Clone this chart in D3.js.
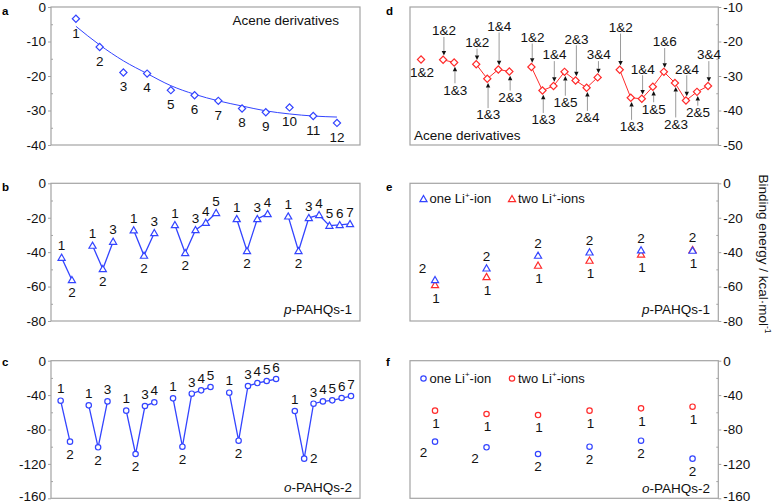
<!DOCTYPE html>
<html><head><meta charset="utf-8">
<script src="https://cdn.jsdelivr.net/npm/d3@7"></script>
<style>body{margin:0;background:#fff}</style>
</head><body>
<svg id="chart" width="774" height="504"></svg>
<script>
// ---------------- DATA ----------------
// a: acene derivatives, one Li+ ion
const aLabels = ["1","2","3","4","5","6","7","8","9","10","11","12"];
const aValues = [-3.4,-11.6,-19.0,-19.3,-24.1,-25.6,-27.2,-29.4,-30.5,-29.1,-31.6,-33.6];
const aFit    = [-5.6,-11.0,-15.6,-19.3,-22.8,-25.3,-27.2,-28.7,-30.1,-31.0,-31.6,-31.9];

// b: p-PAHQs-1 (groups of sites)
const bSeries = [
  [-43.2,-56.2],
  [-36.2,-49.8,-33.9],
  [-27.3,-42.0,-28.9],
  [-24.2,-40.5,-27.1,-22.9,-17.2],
  [-20.7,-39.3,-20.7,-17.8],
  [-19.2,-39.3,-20.1,-18.4,-24.6,-24.2,-23.6]
];
// c: o-PAHQs-2
const cSeries = [
  [-46.5,-94.1],
  [-51.9,-100.7,-47.3],
  [-58.1,-108.5,-52.7,-48.4],
  [-43.8,-100.0,-38.4,-34.5,-30.6],
  [-37.2,-93.0,-29.4,-26.0,-23.6,-21.3],
  [-58.5,-113.9,-50.0,-47.3,-46.1,-43.4,-41.1]
];
const cSite2Side = ["below","below","below","below","below","right"];

// d: acene derivatives, two Li+ ions
const dLabels = [
  ["1&2"],
  ["1&2","1&3"],
  ["1&2","1&3","1&4","2&3"],
  ["1&2","1&3","1&4","1&5","2&3","2&4","3&4"],
  ["1&2","1&3","1&4","1&5","1&6","2&3","2&4","2&5","3&4"]
];
const dValues = [
  [-25.2],
  [-25.3,-26.1],
  [-26.6,-30.8,-28.1,-28.7],
  [-27.4,-34.2,-32.9,-28.8,-31.3,-33.4,-30.4],
  [-28.2,-36.3,-36.6,-33.1,-28.8,-32.0,-37.1,-34.6,-32.9]
];
// annotation level of each label (energy units)
const dLabelLevels = [
  [-28.8],
  [-16.8,-34.0],
  [-20.2,-41.2,-15.5,-36.1],
  [-18.7,-42.6,-23.8,-37.6,-19.2,-42.0,-23.8],
  [-15.8,-44.6,-27.9,-39.5,-20.0,-43.9,-27.9,-40.5,-23.8]
];

// e: p-PAHQs-1, one vs two Li+ ions
const eOne = [-56.2,-49.4,-42.0,-40.1,-38.9,-39.1];
const eTwo = [-59.1,-54.4,-47.8,-44.9,-41.3,-38.7];
const eSite2Side = ["aboveleft","above","above","above","above","above"];
// f: o-PAHQs-2, one vs two Li+ ions
const fOne = [-94.1,-100.7,-108.5,-100.0,-93.0,-113.9];
const fTwo = [-58.1,-62.0,-63.2,-58.1,-55.4,-53.5];
const fSite2Side = ["belowleft","belowleft","below","below","below","below"];

// ---------------- DRAWING ----------------
const FONT = '"Liberation Sans", Arial, Helvetica, sans-serif';
const BLUE = "#3344ff", RED = "#ff2b2b", GRAY = "#a3a3a3";
const svg = d3.select("#chart").style("font-family", FONT);

function makePanel(o) {
  const x = d3.scaleLinear().domain(o.xDomain).range([o.x0, o.x1]);
  const y = d3.scaleLinear().domain(o.yDomain).range([o.y1, o.y0]);
  const g = svg.append("g");
  const majors = d3.range(o.yDomain[0], o.yDomain[1] + 1e-9, o.major);
  const minors = d3.range(o.yDomain[0] + o.major / 2, o.yDomain[1], o.major);
  const isLeft = o.side === "left";
  const ax = (isLeft ? d3.axisLeft(y) : d3.axisRight(y));
  const axG = g.append("g").attr("transform", `translate(${isLeft ? o.x0 : o.x1},0)`)
    .call(ax.tickValues(majors).tickSize(3).tickPadding(2).tickFormat(d => String(d)));
  axG.select(".domain").remove();
  axG.selectAll("line").attr("stroke", GRAY);
  axG.selectAll("text").attr("font-size", 13.5).attr("font-family", FONT).attr("fill", "#111");
  // keep the lowest tick label inside the picture
  axG.selectAll(".tick").filter(d => y(d) > 490).select("text").attr("y", -2.5);
  const mnG = g.append("g").attr("transform", `translate(${isLeft ? o.x0 : o.x1},0)`)
    .call((isLeft ? d3.axisLeft(y) : d3.axisRight(y)).tickValues(minors).tickSize(-2).tickFormat(""));
  mnG.select(".domain").remove();
  mnG.selectAll("line").attr("stroke", GRAY);
  g.append("rect").attr("x", o.x0).attr("y", o.y0).attr("width", o.x1 - o.x0).attr("height", o.y1 - o.y0)
    .attr("fill", "none").attr("stroke", GRAY).attr("stroke-width", 1.2);
  svg.append("text").attr("x", o.letterX).attr("y", o.letterY).attr("font-size", 11.5)
    .attr("font-weight", "bold").text(o.letter);
  return { x, y, g };
}

const OFF = { above: [0, -12], below: [0, 12.5], right: [9.5, 0], aboveleft: [-12.5, -11], belowleft: [-11.5, 11] };
function numLabel(g, px, py, txt, side) {
  const [dx, dy] = OFF[side];
  g.append("text").attr("x", px + dx).attr("y", py + dy + 4.8).attr("text-anchor", "middle")
    .attr("font-size", 13.5).attr("fill", "#111").text(txt);
}
const diamond = d3.symbol().type(d3.symbolSquare).size(26)();
const triangle = d3.symbol().type(d3.symbolTriangle).size(22)();
function marker(g, type, px, py, color) {
  if (type === "circle") {
    g.append("circle").attr("cx", px).attr("cy", py).attr("r", 2.7)
      .attr("fill", "#fff").attr("stroke", color).attr("stroke-width", 1.2);
  } else if (type === "diamond") {
    g.append("path").attr("d", diamond).attr("transform", `translate(${px},${py}) rotate(45)`)
      .attr("fill", "#fff").attr("stroke", color).attr("stroke-width", 1.2);
  } else {
    g.append("path").attr("d", triangle).attr("transform", `translate(${px},${py + 0.6})`)
      .attr("fill", "#fff").attr("stroke", color).attr("stroke-width", 1.2);
  }
}
function italicTitle(g, xr, yb, ital, rest) {
  const t = g.append("text").attr("x", xr).attr("y", yb).attr("text-anchor", "end").attr("font-size", 13.5).attr("fill", "#111");
  t.append("tspan").attr("font-style", "italic").text(ital);
  t.append("tspan").text(rest);
}
function legend(g, px, py, type, color, txtBefore, txtAfter) {
  marker(g, type, px, py, color);
  const t = g.append("text").attr("x", px + 6).attr("y", py + 4.3).attr("font-size", 13).attr("fill", "#111");
  t.append("tspan").text(txtBefore);
  t.append("tspan").attr("font-size", 8).attr("dy", -5.5).text("+");
  t.append("tspan").attr("dy", 5.5).text(txtAfter);
}

const LX = [51, 360], RX = [410, 718.3];
const ROWS = [[7, 145], [183.3, 321], [360.7, 498.3]];

// ---- panel a ----
{
  const p = makePanel({ x0: LX[0], x1: LX[1], y0: ROWS[0][0], y1: ROWS[0][1], xDomain: [-0.05, 12.97],
    yDomain: [-40, 0], major: 10, side: "left", letter: "a", letterX: 2, letterY: 15 });
  const line = d3.line().x((d, i) => p.x(i + 1)).y(d => p.y(d)).curve(d3.curveMonotoneX);
  p.g.append("path").attr("d", line(aFit)).attr("fill", "none").attr("stroke", BLUE).attr("stroke-width", 1);
  aValues.forEach((v, i) => {
    marker(p.g, "diamond", p.x(i + 1), p.y(v), BLUE);
    numLabel(p.g, p.x(i + 1), p.y(v) + 1.5, aLabels[i], "below");
  });
  p.g.append("text").attr("x", 339).attr("y", 25).attr("text-anchor", "end").attr("font-size", 13.5)
    .attr("fill", "#111").text("Acene derivatives");
}

// ---- panels b, c (grouped series) ----
function groupedPanel(series, rowIdx, yDom, major, type, letter, letterY, sides, ital, rest, xDomain) {
  const p = makePanel({ x0: LX[0], x1: LX[1], y0: ROWS[rowIdx][0], y1: ROWS[rowIdx][1], xDomain,
    yDomain: yDom, major, side: "left", letter, letterX: 2, letterY });
  let idx = 0;
  series.forEach((grp, gi) => {
    const pts = grp.map((v, i) => [idx + i, v]);
    p.g.append("path").attr("d", d3.line().x(d => p.x(d[0])).y(d => p.y(d[1]))(pts))
      .attr("fill", "none").attr("stroke", BLUE).attr("stroke-width", 1.3);
    pts.forEach(([k, v], i) => {
      marker(p.g, type, p.x(k), p.y(v), BLUE);
      const side = i === 1 ? sides[gi] : "above";
      numLabel(p.g, p.x(k), p.y(v), String(i + 1), side);
    });
    idx += grp.length + 1;
  });
  italicTitle(p.g, 352, rowIdx === 1 ? 313.5 : 492, ital, rest);
}
groupedPanel(bSeries, 1, [-80, 0], 20, "triangle", "b", 190.7,
  bSeries.map(() => "below"), "p", "-PAHQs-1", [-1.03, 28.97]);
groupedPanel(cSeries, 2, [-160, 0], 40, "circle", "c", 366, cSite2Side, "o", "-PAHQs-2", [-1.03, 31.96]);

// ---- panel d ----
{
  const p = makePanel({ x0: RX[0], x1: RX[1], y0: ROWS[0][0], y1: ROWS[0][1], xDomain: [-1, 26.93],
    yDomain: [-50, -10], major: 10, side: "right", letter: "d", letterX: 386, letterY: 15 });
  let idx = 0;
  dValues.forEach((grp, gi) => {
    const pts = grp.map((v, i) => [idx + i, v]);
    if (pts.length > 1) {
      p.g.append("path").attr("d", d3.line().x(d => p.x(d[0])).y(d => p.y(d[1]))(pts))
        .attr("fill", "none").attr("stroke", RED).attr("stroke-width", 1);
    }
    pts.forEach(([k, v], i) => {
      const px = p.x(k), py = p.y(v), ly = p.y(dLabelLevels[gi][i]);
      const txt = dLabels[gi][i];
      if (pts.length > 1) {
        const above = ly < py;
        const yStart = above ? ly + 6.5 : ly - 6.5;
        const yTip = above ? py - 4.2 : py + 4.2;
        const yBase = above ? yTip - 4.5 : yTip + 4.5;
        p.g.append("line").attr("x1", px + 0.8).attr("x2", px + 0.8).attr("y1", yStart).attr("y2", yBase)
          .attr("stroke", "#9a9a9a").attr("stroke-width", 1);
        p.g.append("path").attr("d", `M${px + 0.8},${yTip}L${px - 1.4},${yBase}L${px + 3},${yBase}Z`).attr("fill", "#111");
      }
      p.g.append("text").attr("x", px + 1).attr("y", ly + 4.8).attr("text-anchor", "middle")
        .attr("font-size", 13.5).attr("fill", "#111").text(txt);
    });
    idx += grp.length + 1;
  });
  // markers on top
  idx = 0;
  dValues.forEach(grp => { grp.forEach((v, i) => marker(p.g, "diamond", p.x(idx + i), p.y(v), RED)); idx += grp.length + 1; });
  p.g.append("text").attr("x", 414).attr("y", 139.5).attr("font-size", 13.5).attr("fill", "#111").text("Acene derivatives");
}

// ---- panels e, f ----
function comparePanel(one, two, rowIdx, yDom, major, type, letter, letterY, sides2, ital, rest, legendY, titleY) {
  const p = makePanel({ x0: RX[0], x1: RX[1], y0: ROWS[rowIdx][0], y1: ROWS[rowIdx][1], xDomain: [-0.486, 5.5],
    yDomain: yDom, major, side: "right", letter, letterX: 386, letterY });
  one.forEach((v1, i) => {
    const v2 = two[i];
    const px = p.x(i);
    const y1 = p.y(v1), y2 = p.y(v2);
    if (rowIdx === 1) {
      numLabel(p.g, px, Math.min(y1, y2) - 0.5, "2", sides2[i]);
      numLabel(p.g, px + 1, Math.max(y1, y2) + 0.5, "1", "below");
    } else {
      numLabel(p.g, px + 1, y2, "1", "below");
      numLabel(p.g, px, y1, "2", sides2[i]);
    }
    marker(p.g, type, px, y2, RED);
    marker(p.g, type, px, y1, BLUE);
  });
  legend(p.g, 423.5, legendY, type, BLUE, "one Li", "-ion");
  legend(p.g, 512, legendY, type, RED, "two Li", "-ions");
  italicTitle(p.g, 710, titleY, ital, rest);
}
comparePanel(eOne, eTwo, 1, [-80, 0], 20, "triangle", "e", 190.7, eSite2Side, "p", "-PAHQs-1", 199, 313.5);
comparePanel(fOne, fTwo, 2, [-160, 0], 40, "circle", "f", 366, fSite2Side, "o", "-PAHQs-2", 378.5, 493);

// ---- shared right y-axis title ----
{
  const t = svg.append("text").attr("transform", "translate(759,254) rotate(90)").attr("text-anchor", "middle")
    .attr("font-size", 13.5).attr("fill", "#111");
  t.append("tspan").text("Binding energy / kcal\u00b7mol");
  t.append("tspan").attr("font-size", 8.5).attr("dy", -5.5).text("-1");
}
</script>
</body></html>
